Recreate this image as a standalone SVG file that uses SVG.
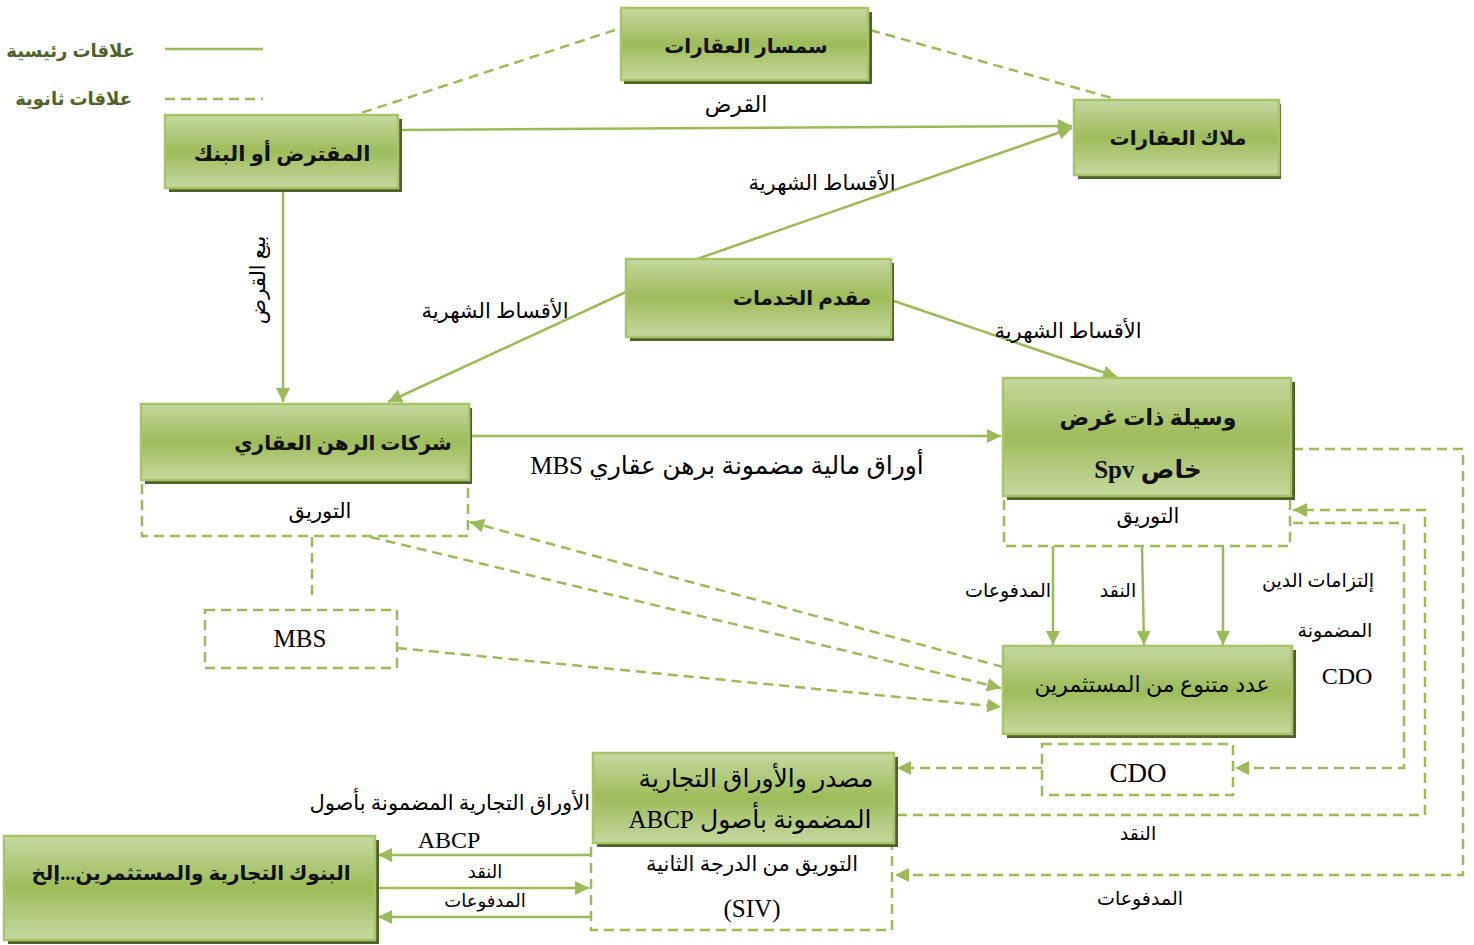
<svg xmlns="http://www.w3.org/2000/svg" width="1474" height="945" viewBox="0 0 1474 945">
<defs>
<linearGradient id="g" x1="0" y1="0" x2="0" y2="1">
<stop offset="0" stop-color="#C5D9A0"/>
<stop offset="0.5" stop-color="#9DBC5A"/>
<stop offset="1" stop-color="#C5D9A0"/>
</linearGradient>
<marker id="arr" viewBox="0 0 12 12" refX="12" refY="6" markerWidth="14" markerHeight="14" orient="auto" markerUnits="userSpaceOnUse">
<path d="M0,0 L12,6 L0,12 z" fill="#9BBB59"/>
</marker>
<style>
.sh{fill:#4F6228}
.bx{fill:url(#g);stroke:#A6C46A;stroke-width:2.5}
.ln{fill:none;stroke:#9BBB59;stroke-width:2.5}
.ds{fill:none;stroke:#9BBB59;stroke-width:2.5;stroke-dasharray:10 6}
.t{font-family:"Liberation Serif","DejaVu Sans",serif;fill:#000;text-anchor:middle}
.tb{font-family:"Liberation Serif","DejaVu Sans",serif;font-weight:bold;fill:#111;text-anchor:middle}
.lg{font-family:"Liberation Sans","DejaVu Sans",sans-serif;font-weight:bold;fill:#4F6228;font-size:18px}
</style>
</defs>
<rect width="1474" height="945" fill="#fff"/>

<g id="legend">
<text class="lg" x="135" y="57" text-anchor="start" direction="rtl">علاقات رئيسية</text>
<text class="lg" x="132" y="105" text-anchor="start" direction="rtl">علاقات ثانوية</text>
<line class="ln" x1="165" y1="49" x2="263" y2="49"/>
<line class="ds" x1="165" y1="99" x2="263" y2="99"/>
</g>

<g id="connectors">
<path class="ln" d="M398,130 L1072,126" marker-end="url(#arr)"/>
<path class="ln" d="M697,259 L1072,128" marker-end="url(#arr)"/>
<path class="ln" d="M626,292 L388,402" marker-end="url(#arr)"/>
<path class="ln" d="M891,300 L1117,377" marker-end="url(#arr)"/>
<path class="ln" d="M283,188 L283,402" marker-end="url(#arr)"/>
<path class="ln" d="M469,436 L1001,436" marker-end="url(#arr)"/>
<path class="ds" d="M615,30 L355,115"/>
<path class="ds" d="M870,30 L1112,98"/>
<path class="ln" d="M1053,546 L1053,645" marker-end="url(#arr)"/>
<path class="ln" d="M1142,546 L1144,645" marker-end="url(#arr)"/>
<path class="ln" d="M1223,546 L1223,645" marker-end="url(#arr)"/>
<path class="ds" d="M1003,667 L470,522" marker-end="url(#arr)"/>
<path class="ds" d="M370,537 L1001,688" marker-end="url(#arr)"/>
<path class="ds" d="M397,648 L1001,707" marker-end="url(#arr)"/>
<path class="ds" d="M1293,449 L1463,449 L1463,875 L895,875" marker-end="url(#arr)"/>
<path class="ds" d="M897,815 L1425,815 L1425,510 L1293,510" marker-end="url(#arr)"/>
<path class="ds" d="M1293,523 L1404,523 L1404,768 L1235,768" marker-end="url(#arr)"/>
<path class="ds" d="M1042,768 L897,768" marker-end="url(#arr)"/>
<path class="ln" d="M590,855 L378,855" marker-end="url(#arr)"/>
<path class="ln" d="M376,888 L589,888" marker-end="url(#arr)"/>
<path class="ln" d="M590,917 L378,917" marker-end="url(#arr)"/>
<path class="ds" d="M312,537 L312,600"/>
</g>

<g id="labels">
<text class="t" x="736" y="112" font-size="22" direction="rtl">القرض</text>
<text class="t" x="822" y="190" font-size="21" direction="rtl">الأقساط الشهرية</text>
<text class="t" x="495" y="318" font-size="21" direction="rtl">الأقساط الشهرية</text>
<text class="t" x="1068" y="338" font-size="21" direction="rtl">الأقساط الشهرية</text>
<text class="t" font-size="21" direction="rtl" transform="translate(265,280) rotate(-90)">بيع  القرض</text>
<text class="t" x="727" y="474" font-size="25" direction="rtl">أوراق مالية مضمونة برهن عقاري MBS</text>
<text class="t" x="1008" y="597" font-size="19" direction="rtl">المدفوعات</text>
<text class="t" x="1118" y="597" font-size="19" direction="rtl">النقد</text>
<text class="t" x="1318" y="587" font-size="19" direction="rtl">إلتزامات الدين</text>
<text class="t" x="1335" y="637" font-size="19" direction="rtl">المضمونة</text>
<text class="t" x="1347" y="684" font-size="24">CDO</text>
<text class="t" x="1138" y="840" font-size="19" direction="rtl">النقد</text>
<text class="t" x="1140" y="905" font-size="19" direction="rtl">المدفوعات</text>
<text class="t" x="590" y="810" font-size="21" direction="rtl" style="text-anchor:start">الأوراق التجارية المضمونة بأصول</text>
<text class="t" x="449" y="848" font-size="24">ABCP</text>
<text class="t" x="485" y="878" font-size="18" direction="rtl">النقد</text>
<text class="t" x="485" y="907" font-size="18" direction="rtl">المدفوعات</text>
</g>

<g id="node-broker">
<rect class="sh" x="624" y="12" width="248" height="72"/>
<rect class="bx" x="621" y="8" width="247" height="72"/>
<text class="tb" x="746" y="53" font-size="20" direction="rtl">سمسار  العقارات</text>
</g>

<g id="node-lender">
<rect class="sh" x="169" y="119" width="233" height="73"/>
<rect class="bx" x="165" y="115" width="233" height="73"/>
<text class="tb" x="282" y="161" font-size="21" direction="rtl">المقترض  أو  البنك</text>
</g>

<g id="node-owners">
<rect class="sh" x="1078" y="104" width="203" height="75"/>
<rect class="bx" x="1074" y="100" width="205" height="75"/>
<text class="tb" x="1178" y="145" font-size="20" direction="rtl">ملاك  العقارات</text>
</g>

<g id="node-servicer">
<rect class="sh" x="630" y="263" width="264" height="78"/>
<rect class="bx" x="626" y="259" width="265" height="78"/>
<text class="tb" x="802" y="305" font-size="20" direction="rtl">مقدم  الخدمات</text>
</g>

<g id="node-mortgage">
<rect class="sh" x="145" y="408" width="327" height="76"/>
<rect class="bx" x="141" y="404" width="328" height="76"/>
<text class="tb" x="343" y="450" font-size="20" direction="rtl">شركات  الرهن  العقاري</text>
<path class="ds" d="M142,484 L142,536 L468,536 L468,484"/>
<text class="t" x="320" y="518" font-size="21" direction="rtl">التوريق</text>
</g>

<g id="node-mbs">
<rect x="205" y="610" width="192" height="58" class="ds"/>
<text class="t" x="300" y="647" font-size="25">MBS</text>
</g>

<g id="node-spv">
<rect class="sh" x="1007" y="382" width="288" height="118"/>
<rect class="bx" x="1003" y="378" width="288" height="118"/>
<text class="tb" x="1148" y="425" font-size="22" direction="rtl">وسيلة  ذات  غرض</text>
<text class="tb" x="1148" y="478" font-size="25" direction="rtl">خاص Spv</text>
<path class="ds" d="M1004,500 L1004,546 L1290,546 L1290,500"/>
<text class="t" x="1148" y="523" font-size="21" direction="rtl">التوريق</text>
</g>

<g id="node-investors">
<rect class="sh" x="1007" y="650" width="289" height="88"/>
<rect class="bx" x="1003" y="646" width="289" height="88"/>
<text class="t" x="1152" y="692" font-size="22" direction="rtl">عدد متنوع من المستثمرين</text>
</g>

<g id="node-cdo">
<rect x="1042" y="744" width="191" height="51" class="ds"/>
<text class="t" x="1138" y="782" font-size="27">CDO</text>
</g>

<g id="node-abcp">
<rect class="sh" x="597" y="757" width="301" height="90"/>
<rect class="bx" x="593" y="753" width="301" height="90"/>
<text class="t" x="756" y="787" font-size="25" direction="rtl">مصدر والأوراق التجارية</text>
<text class="t" x="750" y="828" font-size="25" direction="rtl">المضمونة بأصول ABCP</text>
<path class="ds" d="M591,847 L591,930 L892,930 L892,847"/>
<text class="t" x="752" y="871" font-size="21" direction="rtl">التوريق من الدرجة الثانية</text>
<text class="t" x="752" y="917" font-size="25">(SIV)</text>
</g>

<g id="node-banks">
<rect class="sh" x="8" y="840" width="371" height="104"/>
<rect class="bx" x="4" y="836" width="371" height="104"/>
<text class="tb" x="191" y="880" font-size="20" direction="rtl">البنوك  التجارية  والمستثمرين...إلخ</text>
</g>
</svg>
